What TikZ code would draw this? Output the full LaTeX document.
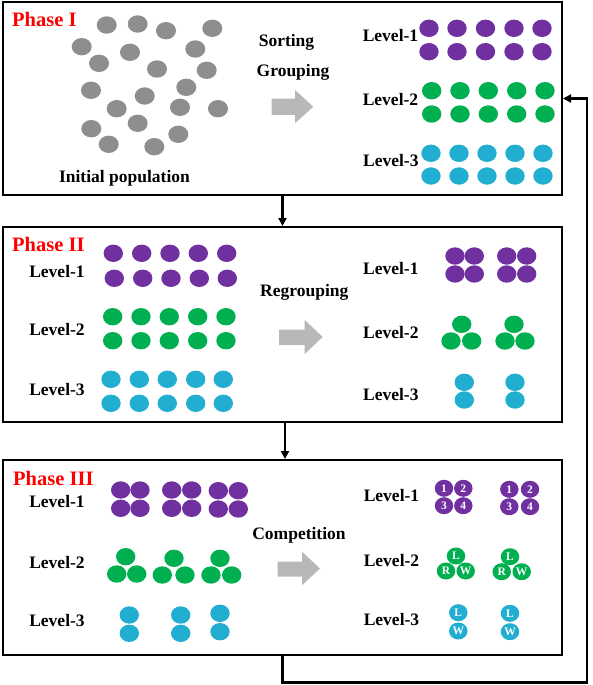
\documentclass[tikz,border=0pt]{standalone}
\usepackage{fontspec}
\setmainfont{Liberation Serif}
\usetikzlibrary{arrows.meta,shapes.geometric}
\definecolor{cpur}{HTML}{7030A0}
\definecolor{cgrn}{HTML}{00B050}
\definecolor{ccya}{HTML}{21AED0}
\definecolor{cgry}{HTML}{8E8E8E}
\definecolor{carr}{HTML}{B8B8B8}
\newcommand\Dt[3]{\fill[#1] (#2,#3) ellipse [x radius=9.7pt, y radius=8.7pt];}
\newcommand\Row[3]{\foreach \xx in {#2}{\Dt{#1}{\xx}{#3}}}
\begin{document}
\begin{tikzpicture}[x=1pt,y=-1pt,
  phasebox/.style={draw, line width=2pt, rectangle, inner sep=0, minimum width=559pt},
  phaselabel/.style={anchor=base west, inner sep=0, text=red, font=\bfseries\fontsize{20.5}{24}\selectfont},
  lvl/.style={anchor=base, inner sep=0, font=\bfseries\fontsize{17.5}{20}\selectfont},
  conn/.style={line width=2.5pt, -{Triangle[length=8pt,width=8pt]}},
  numdot/.style={ellipse, inner sep=0, minimum width=18.5pt, minimum height=17pt, text=white, font=\bfseries\fontsize{11.5}{13}\selectfont},
  garrow/.style={fill=carr}]
\useasboundingbox (0,0) rectangle (592,685);
% boxes
\node[phasebox, minimum height=193pt] (box1) at (282.5,98.5) {};
\node[phasebox, minimum height=195pt] (box2) at (282.5,324.5) {};
\node[phasebox, minimum height=195pt] (box3) at (282.5,557.5) {};
% connectors
\coordinate (fb) at (587,682.7);
\draw[conn] (box1.south) -- (box2.north);
\draw[conn] ([xshift=2.5pt]box2.south) -- ([xshift=2.5pt]box3.north);
\draw[conn] (box3.south) |- (fb) |- (box1.east);
% phase labels
\node[phaselabel] (p1) at (12,26.7) {Phase I};
\node[phaselabel] (p2) at (12,251.7) {Phase II};
\node[phaselabel] (p3) at (13,485) {Phase III};
% ---------- Phase I ----------
\foreach \px/\py in {106.7/25,137.7/24,166/30.7,212.3/28.3,81.7/46.7,130/52.3,195.3/49,
  99/63.3,157/69,206.7/70.3,91/90.3,186.3/87.3,144.7/96,116.7/108.7,180/107.3,218/108.7,
  91.3/128.7,137.7/123.3,178.3/134.3,108.7/144.3,154.3/146.7}
  {\fill[cgry] (\px,\py) ellipse [x radius=10pt, y radius=8.7pt];}
\node[lvl] (init) at (124.5,182) {Initial population};
\node[lvl] (sort) at (286.5,46.7) {Sorting};
\node[lvl] (grp) at (293,76.7) {Grouping};
\fill[garrow] (271.7,98.5) -- (295,98.5) -- (295,90) -- (313.3,106.7) -- (295,123.3) -- (295,114.8) -- (271.7,114.8) -- cycle;
\node[lvl] (a11) at (390.5,41.8) {Level-1};
\node[lvl] (a12) at (390.5,105.6) {Level-2};
\node[lvl] (a13) at (390.8,166.3) {Level-3};
\Row{cpur}{429,457,485.5,514,542}{28.3}
\Row{cpur}{429,457,485.5,514,542}{51.7}
\Row{cgrn}{431.7,460,488.3,516.7,545}{90.7}
\Row{cgrn}{431.7,460,488.3,516.7,545}{114}
\Row{ccya}{431,459,487,515,543}{153.3}
\Row{ccya}{431,459,487,515,543}{176}
% ---------- Phase II ----------
\node[lvl] (b11) at (57,277.3) {Level-1};
\node[lvl] (b12) at (57,335.6) {Level-2};
\node[lvl] (b13) at (57,395.6) {Level-3};
\Row{cpur}{113.3,141.7,170,198.3,226.7}{253.3}
\Row{cpur}{114.3,142.7,171,199.3,227.3}{278.3}
\Row{cgrn}{112.7,141,169.3,197.7,226}{316.7}
\Row{cgrn}{112.7,141,169.3,197.7,226}{340.7}
\Row{ccya}{111,139.3,167.3,195.7,223.3}{379.3}
\Row{ccya}{111,139.3,167.3,195.7,223.3}{403.3}
\node[lvl] (regr) at (304.3,296.7) {Regrouping};
\fill[garrow] (279,329.5) -- (304.7,329.5) -- (304.7,320) -- (322.7,337) -- (304.7,354) -- (304.7,345) -- (279,345) -- cycle;
\node[lvl] (b21) at (390.8,274.9) {Level-1};
\node[lvl] (b22) at (390.8,338.9) {Level-2};
\node[lvl] (b23) at (390.8,400.6) {Level-3};
\Row{cpur}{455,474.3,506.7,526.7}{256}
\Row{cpur}{455,474.3,506.7,526.7}{274}
\Row{cgrn}{461.7,514}{324.3}
\Row{cgrn}{451,471.7,505,525}{341}
\Row{ccya}{464.3,515}{382.3}
\Row{ccya}{464.3,515}{400}
% ---------- Phase III ----------
\node[lvl] (c11) at (57,507.3) {Level-1};
\node[lvl] (c12) at (57,568.3) {Level-2};
\node[lvl] (c13) at (57,626.6) {Level-3};
\Row{cpur}{120.7,140,171.7,191.7}{490}
\Row{cpur}{120.7,140,171.7,191.7}{508.3}
\Row{cpur}{218.3,238.3}{490.7}
\Row{cpur}{218.3,238.3}{509}
\Dt{cgrn}{125.7}{556.7}
\Row{cgrn}{116.7,136.7}{574}
\Row{cgrn}{174,220}{558.3}
\Row{cgrn}{162.3,185,211,231.7}{575}
\Row{ccya}{129.3,180.7}{615}
\Row{ccya}{129.3,180.7}{633.3}
\Dt{ccya}{220}{613.3}
\Dt{ccya}{220}{631.7}
\node[lvl] (comp) at (299,539.3) {Competition};
\fill[garrow] (277.7,561.7) -- (302,561.7) -- (302,551.7) -- (320,568.5) -- (302,585.3) -- (302,576.7) -- (277.7,576.7) -- cycle;
\node[lvl] (c21) at (391.5,501.3) {Level-1};
\node[lvl] (c22) at (391.5,566.6) {Level-2};
\node[lvl] (c23) at (391.5,625.6) {Level-3};
\node[numdot, fill=cpur] (u1) at (444,488.3) {1};
\node[numdot, fill=cpur] (u2) at (463.3,488.3) {2};
\node[numdot, fill=cpur] (u3) at (444,505.7) {3};
\node[numdot, fill=cpur] (u4) at (463.3,505.7) {4};
\node[numdot, fill=cpur] (v1) at (509.3,489.3) {1};
\node[numdot, fill=cpur] (v2) at (530,489.3) {2};
\node[numdot, fill=cpur] (v3) at (509.3,506.7) {3};
\node[numdot, fill=cpur] (v4) at (530,506.7) {4};
\node[numdot, fill=cgrn] (gl1) at (456,556) {L};
\node[numdot, fill=cgrn] (gr1) at (446,571) {R};
\node[numdot, fill=cgrn] (gw1) at (465.7,571) {W};
\node[numdot, fill=cgrn] (gl2) at (510,556.7) {L};
\node[numdot, fill=cgrn] (gr2) at (501.7,571.7) {R};
\node[numdot, fill=cgrn] (gw2) at (521.7,571.7) {W};
\node[numdot, fill=ccya] (cl1) at (458.3,612.7) {L};
\node[numdot, fill=ccya] (cw1) at (458.3,631) {W};
\node[numdot, fill=ccya] (cl2) at (510,613.3) {L};
\node[numdot, fill=ccya] (cw2) at (510,631.7) {W};
\end{tikzpicture}
\end{document}
